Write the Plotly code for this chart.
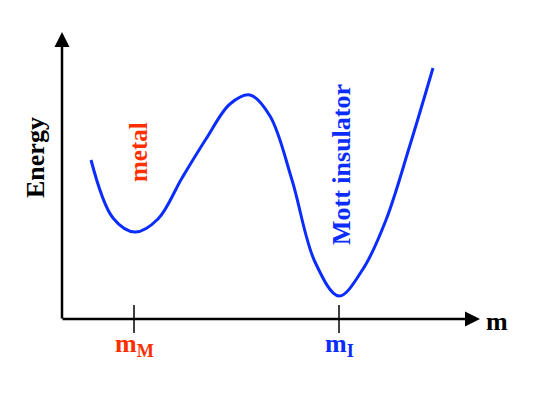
import plotly.graph_objects as go

# Curve (x in px units, y = height above bottom of canvas)
H = 409
m_values = [91, 113, 135, 158, 182, 206, 230, 250, 270, 292, 315, 339, 363, 386, 410, 433]
energy_px = [160, 218, 232, 219, 178, 139, 104, 95, 116, 180, 262, 296, 269, 220, 145, 68]
energy_values = [H - v for v in energy_px]

tick_positions = [134, 339]
tick_labels = ["m<sub>M</sub>", "m<sub>I</sub>"]
tick_colors = ["#ff3000", "#0a2cff"]

BLUE = "#0a2cff"
RED = "#ff3000"
FONT = "Liberation Serif"
OFF = 8  # page body margin

fig = go.Figure()
fig.add_trace(go.Scatter(x=m_values, y=energy_values, mode="lines",
                         line=dict(color=BLUE, width=3, shape="spline", smoothing=1.0),
                         hoverinfo="skip", showlegend=False))

ax0x, ax0y = 62, H - 319
annotations = []
annotations.append(dict(x=480, y=ax0y, ax=ax0x - 1, ay=ax0y, xref="x", yref="y", axref="x", ayref="y",
                        showarrow=True, arrowhead=2, arrowsize=1.2, arrowwidth=2.5, arrowcolor="black", text=""))
annotations.append(dict(x=ax0x, y=H - 32, ax=ax0x, ay=ax0y - 1, xref="x", yref="y", axref="x", ayref="y",
                        showarrow=True, arrowhead=2, arrowsize=1.2, arrowwidth=2.5, arrowcolor="black", text=""))

shapes = []
for tp in tick_positions:
    shapes.append(dict(type="line", x0=tp, x1=tp, y0=H - 305, y1=H - 333, xref="x", yref="y",
                       line=dict(color="black", width=1.5)))

for tp, tl, tc in zip(tick_positions, tick_labels, tick_colors):
    annotations.append(dict(x=tp, y=H - 345, text=tl, showarrow=False, xref="x", yref="y",
                            font=dict(family=FONT, size=26, color=tc, weight="bold")))

annotations.append(dict(x=497, y=H - 321, text="m", showarrow=False, xref="x", yref="y",
                        font=dict(family=FONT, size=26, color="black", weight="bold")))
annotations.append(dict(x=35, y=H - 158, text="Energy", textangle=-90, showarrow=False, xref="x", yref="y",
                        font=dict(family=FONT, size=26, color="black", weight="bold")))
annotations.append(dict(x=138, y=H - 152, text="metal", textangle=-90, showarrow=False, xref="x", yref="y",
                        font=dict(family=FONT, size=25, color=RED, weight="bold")))
annotations.append(dict(x=341, y=H - 165, text="Mott insulator", textangle=-90, showarrow=False, xref="x", yref="y",
                        font=dict(family=FONT, size=26, color=BLUE, weight="bold")))

fig.update_layout(
    width=545, height=409, margin=dict(l=0, r=0, t=0, b=0),
    paper_bgcolor="white", plot_bgcolor="white",
    xaxis=dict(range=[OFF, 545 + OFF], visible=False, fixedrange=True),
    yaxis=dict(range=[-OFF, H - OFF], visible=False, fixedrange=True),
    annotations=annotations, shapes=shapes, showlegend=False,
)
fig.write_html("out.html")
